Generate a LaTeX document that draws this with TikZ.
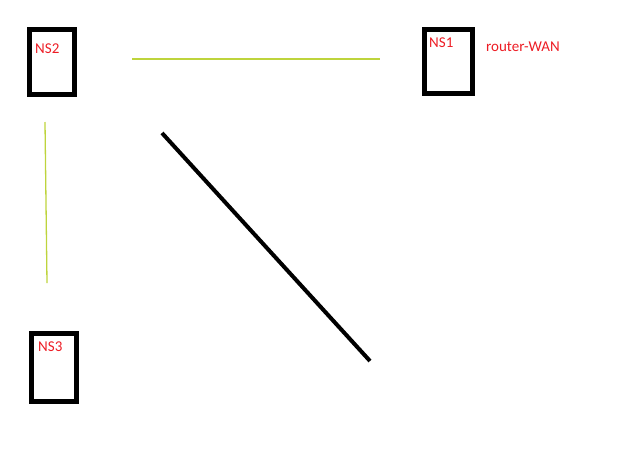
\documentclass[tikz,border=0pt]{standalone}
\usepackage{fontspec}
\setmainfont{Carlito}
\definecolor{nsred}{RGB}{237,28,36}
\definecolor{linkgreen}{RGB}{190,212,60}
\tikzset{
  nsbox/.style={draw, line width=5pt, minimum width=45pt, minimum height=65pt, inner sep=0pt},
  nslabel/.style={text=nsred, font=\fontsize{15}{17}\selectfont, inner sep=0pt, anchor=north west},
  link/.style={linkgreen, line width=1.3pt}
}
\begin{document}
\begin{tikzpicture}[x=1pt,y=-1pt]
            \useasboundingbox (0,0) rectangle (641,475);
            \node[nsbox] (ns2) at (52,62) {};
            \node[nsbox, minimum width=48pt, minimum height=64pt] (ns1) at (448.5,61.5) {};
            \node[nsbox, minimum height=68pt] (ns3) at (53.5,367.5) {};
            \node[nslabel] (ns2txt) at (35,44) {NS2};
            \node[nslabel] (ns1txt) at (429,38) {NS1};
            \node[nslabel] (ns3txt) at (38,342) {NS3};
            \node[nslabel] (wan) at (486,42) {router-WAN};
            \coordinate (h1) at (132,59);
            \coordinate (h2) at (380,59);
            \coordinate (v1) at (45,122);
            \coordinate (v2) at (47,283);
            \coordinate (d1) at (162,133);
            \coordinate (d2) at (370,361);
            \draw[link] (h1) -- (h2);
            \draw[link] (v1) -- (v2);
            \draw[line width=4pt] (d1) -- (d2);
        \end{tikzpicture}
\end{document}
